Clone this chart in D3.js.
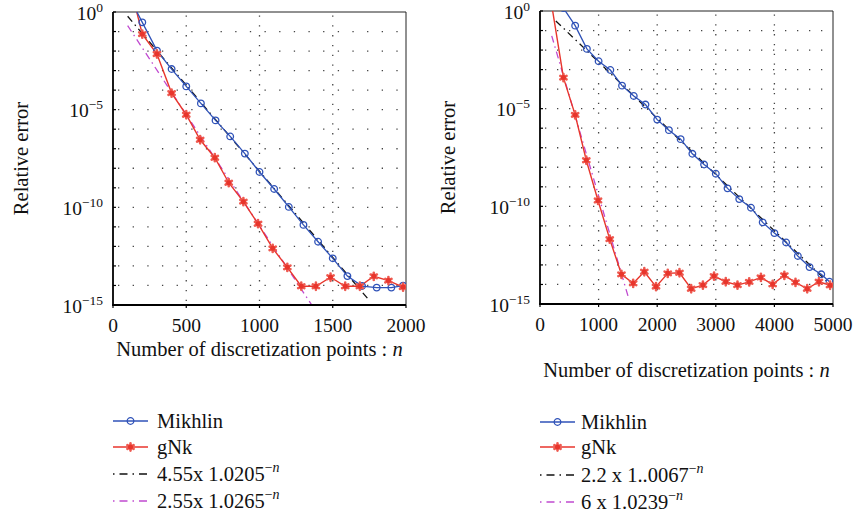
<!DOCTYPE html>
<html><head><meta charset="utf-8">
<script src="https://cdn.jsdelivr.net/npm/d3@7"></script>
<style>
body{margin:0;background:#fff}
svg{display:block}
text{font-family:"Liberation Serif","Times New Roman",serif;fill:#111}
</style>
</head><body>
<svg id="c" width="855" height="522"></svg>
<script>
// ---------- DATA ----------
const leftMikhlinN = [100,200,300,400,500,600,700,800,900,1000,1100,1200,1300,1400,1500,1600,1700,1800,1900,1980];
const leftMikhlin  = [8.3,2.95e-1,1.05e-2,1.2e-3,1.55e-4,2.09e-5,2.82e-6,4.27e-7,5.62e-8,6.46e-9,8.71e-10,1.05e-10,1.26e-11,1.74e-12,2.45e-13,3.02e-14,9.33e-15,7.76e-15,7.76e-15,9.77e-15];
const leftGnkN = [100,200,300,400,500,595,695,790,890,990,1090,1190,1285,1385,1485,1585,1685,1780,1880,1980];
const leftGnk  = [69,7.41e-2,7.08e-3,7.08e-5,5.5e-6,2.88e-7,3.47e-8,1.82e-9,1.95e-10,1.45e-11,7.94e-13,8.51e-14,9.12e-15,9.12e-15,2.63e-14,9.12e-15,9.12e-15,2.95e-14,1.78e-14,8.32e-15];
const leftFitBlackN = [100,1750];
const leftFitBlack  = [6.03e-1,1.70e-15];
const leftFitMagN = [100,1360];
const leftFitMag  = [2.0e-1,9.1e-16];

const rightMikhlinN = [400,600,800,1000,1200,1400,1600,1800,2000,2200,2400,2600,2800,3000,3200,3400,3600,3800,4000,4200,4400,4600,4800,4940];
const rightMikhlin  = [1.41,1.78e-1,1.15e-2,2.69e-3,9.55e-4,1.51e-4,4.47e-5,1.62e-5,2.75e-6,7.94e-7,2.75e-7,4.9e-8,1.38e-8,4.68e-9,8.32e-10,2.34e-10,8.51e-11,1.51e-11,4.27e-12,1.41e-12,2.88e-13,7.76e-14,3.31e-14,1.38e-14];
const rightGnkN = [200,400,600,790,990,1190,1390,1590,1780,1980,2180,2380,2580,2780,2970,3170,3370,3570,3770,3970,4170,4360,4560,4760,4950];
const rightGnk  = [2.0,3.89e-4,4.79e-6,2.29e-8,2.0e-10,2.09e-12,3.31e-14,1.15e-14,4.47e-14,7.76e-15,3.72e-14,3.98e-14,6.03e-15,9.33e-15,2.69e-14,1.38e-14,9.33e-15,1.35e-14,2.29e-14,1.02e-14,2.95e-14,1.29e-14,6.03e-15,1.38e-14,9.12e-15];
const rightFitBlackN = [270,4950];
const rightFitBlack  = [3.1e-1,1.02e-14];
const rightFitMagN = [200,1520];
const rightFitMag  = [5.37e-2,1.66e-15];

const leftXTicks = [0,500,1000,1500,2000];
const rightXTicks = [0,1000,2000,3000,4000,5000];
const yTickExps = [0,-5,-10,-15];
const xLabel = "Number of discretization points : ";
const yLabel = "Relative error";
const leftLegend = [["Mikhlin",""],["gNk",""],["4.55x 1.0205","\u2212n"],["2.55x 1.0265","\u2212n"]];
const rightLegend = [["Mikhlin",""],["gNk",""],["2.2 x 1..0067","\u2212n"],["6 x 1.0239","\u2212n"]];

// ---------- STYLE ----------
const BLUE = "#2f52b8", RED = "#e8352c", BLACK = "#111", MAG = "#c04ad0";
const svg = d3.select("#c");

const asterisk = {
  draw(ctx, size) {
    const r = Math.sqrt(size) * 0.6, t = r / 2, u = t * Math.sqrt(3);
    ctx.moveTo(0, r); ctx.lineTo(0, -r);
    ctx.moveTo(-u, -t); ctx.lineTo(u, t);
    ctx.moveTo(-u, t); ctx.lineTo(u, -t);
  }
};

function zip(a, b) { return a.map((v, i) => [v, b[i]]); }

function drawStar(sel) {
  sel.append("path").attr("d", d3.symbol().type(asterisk).size(36)())
    .attr("fill", "none").attr("stroke", "#ee5a50").attr("stroke-width", 2.6).attr("stroke-linecap", "round");
  sel.append("circle").attr("r", 2.5).attr("fill", RED);
}
function drawCircle(sel) {
  sel.append("circle").attr("r", 3.3).attr("fill", "none").attr("stroke", BLUE).attr("stroke-width", 1.3);
}

function panel(cfg) {
  const g = svg.append("g");
  const x = d3.scaleLinear().domain([0, cfg.xmax]).range([cfg.x0, cfg.x1]);
  const y = d3.scaleLog().domain([1e-15, 1]).range([cfg.y1, cfg.y0]);

  // grid (dotted)
  const decades = d3.range(-14, 0).map(e => Math.pow(10, e));
  g.selectAll(".hg").data(decades).join("line")
    .attr("x1", cfg.x0).attr("x2", cfg.x1)
    .attr("y1", d => y(d)).attr("y2", d => y(d))
    .attr("stroke", "#444").attr("stroke-width", 1.3)
    .attr("stroke-dasharray", `1.3,${cfg.hgap - 1.3}`)
    .attr("stroke-dashoffset", -5);
  const inner = cfg.xticks.slice(1, -1);
  g.selectAll(".vg").data(inner).join("line")
    .attr("x1", d => x(d)).attr("x2", d => x(d))
    .attr("y1", cfg.y1).attr("y2", cfg.y0)
    .attr("stroke", "#444").attr("stroke-width", 1.3)
    .attr("stroke-dasharray", "1.3,8.5")
    .attr("stroke-dashoffset", -4);

  // frame
  g.append("line").attr("x1", cfg.x0).attr("x2", cfg.x1).attr("y1", cfg.y0).attr("y2", cfg.y0).attr("stroke", "#222").attr("stroke-width", 1);
  g.append("line").attr("x1", cfg.x1).attr("x2", cfg.x1).attr("y1", cfg.y0).attr("y2", cfg.y1).attr("stroke", "#222").attr("stroke-width", 1);

  // clip
  const id = "clip" + cfg.id;
  svg.append("clipPath").attr("id", id).append("rect")
    .attr("x", cfg.x0).attr("y", cfg.y0).attr("width", cfg.x1 - cfg.x0).attr("height", cfg.y1 - cfg.y0);
  const p = g.append("g").attr("clip-path", `url(#${id})`);
  const line = d3.line().x(d => x(d[0])).y(d => y(d[1]));

  p.append("path").datum(zip(cfg.blackN, cfg.black)).attr("d", line)
    .attr("fill", "none").attr("stroke", BLACK).attr("stroke-width", 1.3).attr("stroke-dasharray", "7,4,1.5,4");
  p.append("path").datum(zip(cfg.magN, cfg.mag)).attr("d", line)
    .attr("fill", "none").attr("stroke", MAG).attr("stroke-width", 1.3).attr("stroke-dasharray", "7,4,1.5,4");
  p.append("path").datum(zip(cfg.gnkN, cfg.gnk)).attr("d", line)
    .attr("fill", "none").attr("stroke", RED).attr("stroke-width", 1.4);
  p.append("path").datum(zip(cfg.mikN, cfg.mik)).attr("d", line)
    .attr("fill", "none").attr("stroke", BLUE).attr("stroke-width", 1.3);
  p.selectAll(".mk").data(zip(cfg.mikN, cfg.mik)).join("g")
    .attr("transform", d => `translate(${x(d[0])},${y(d[1])})`).call(drawCircle);
  p.selectAll(".st").data(zip(cfg.gnkN, cfg.gnk)).join("g")
    .attr("transform", d => `translate(${x(d[0])},${y(d[1])})`).each(function () { drawStar(d3.select(this)); });

  // axes (left & bottom heavier)
  g.append("line").attr("x1", cfg.x0).attr("x2", cfg.x0).attr("y1", cfg.y0).attr("y2", cfg.y1 + 0.8).attr("stroke", "#000").attr("stroke-width", 1.8);
  g.append("line").attr("x1", cfg.x0 - 0.8).attr("x2", cfg.x1).attr("y1", cfg.y1).attr("y2", cfg.y1).attr("stroke", "#000").attr("stroke-width", 1.8);

  // y ticks
  const allDec = d3.range(-15, 1).map(e => Math.pow(10, e));
  g.selectAll(".yt").data(allDec).join("line")
    .attr("x1", cfg.x0).attr("x2", cfg.x0 + 3).attr("y1", d => y(d)).attr("y2", d => y(d))
    .attr("stroke", "#000").attr("stroke-width", 1.2);
  const yl = g.selectAll(".yl").data(yTickExps).join("text")
    .attr("x", cfg.x0 - 10).attr("y", d => y(Math.pow(10, d)) + 7.5)
    .attr("text-anchor", "end").style("font-size", "19.5px");
  yl.append("tspan").text("10");
  yl.append("tspan").attr("dy", -8).style("font-size", "13.5px").text(d => d === 0 ? "0" : "\u2212" + (-d));

  // x ticks
  g.selectAll(".xt").data(cfg.xticks).join("line")
    .attr("x1", d => x(d)).attr("x2", d => x(d)).attr("y1", cfg.y1).attr("y2", cfg.y1 + 3)
    .attr("stroke", "#000").attr("stroke-width", 1.2);
  g.selectAll(".xl").data(cfg.xticks).join("text")
    .attr("x", d => x(d)).attr("y", cfg.y1 + 27).attr("text-anchor", "middle")
    .style("font-size", "19.5px").text(d => d);

  // axis titles
  const xt = g.append("text").attr("x", (cfg.x0 + cfg.x1) / 2).attr("y", cfg.xLabelY)
    .attr("text-anchor", "middle").style("font-size", "20.5px");
  xt.append("tspan").text(xLabel);
  xt.append("tspan").style("font-style", "italic").text("n");
  g.append("text").attr("transform", `translate(${cfg.yLabelX},${(cfg.y0 + cfg.y1) / 2}) rotate(-90)`)
    .attr("text-anchor", "middle").style("font-size", "20.5px").text(yLabel);

  // legend
  const styles = ["mik", "gnk", "black", "mag"];
  cfg.legend.forEach((row, i) => {
    const cy = cfg.legRows[i];
    const lg = svg.append("g");
    const lx0 = cfg.legX0, lx1 = cfg.legX0 + 35, mx = (lx0 + lx1) / 2;
    const s = styles[i];
    const l = lg.append("line").attr("x1", lx0).attr("x2", lx1).attr("y1", cy).attr("y2", cy).attr("fill", "none");
    if (s === "mik") { l.attr("stroke", BLUE).attr("stroke-width", 1.3); lg.append("g").attr("transform", `translate(${mx},${cy})`).call(drawCircle); }
    if (s === "gnk") { l.attr("stroke", RED).attr("stroke-width", 1.6); drawStar(lg.append("g").attr("transform", `translate(${mx},${cy})`)); }
    if (s === "black") l.attr("stroke", BLACK).attr("stroke-width", 1.3).attr("stroke-dasharray", "1.5,5,8,5");
    if (s === "mag") l.attr("stroke", MAG).attr("stroke-width", 1.3).attr("stroke-dasharray", "1.5,5,8,5");
    const t = lg.append("text").attr("x", lx1 + cfg.legTextGap).attr("y", cy + 7).style("font-size", "20.5px");
    t.append("tspan").text(row[0]);
    if (row[1]) {
      t.append("tspan").attr("dy", -9).style("font-size", "14px").text("\u2212");
      t.append("tspan").style("font-size", "14px").style("font-style", "italic").text("n");
    }
  });
}

panel({
  id: "L", x0: 113, x1: 406, y0: 12, y1: 305, xmax: 2000, xticks: leftXTicks, hgap: 14.65,
  mikN: leftMikhlinN, mik: leftMikhlin, gnkN: leftGnkN, gnk: leftGnk,
  blackN: leftFitBlackN, black: leftFitBlack, magN: leftFitMagN, mag: leftFitMag,
  xLabelY: 356, yLabelX: 28, legend: leftLegend, legX0: 113, legTextGap: 9, legRows: [421, 447, 474, 501]
});
panel({
  id: "R", x0: 540, x1: 833, y0: 11, y1: 304, xmax: 5000, xticks: rightXTicks, hgap: 12,
  mikN: rightMikhlinN, mik: rightMikhlin, gnkN: rightGnkN, gnk: rightGnk,
  blackN: rightFitBlackN, black: rightFitBlack, magN: rightFitMagN, mag: rightFitMag,
  xLabelY: 377, yLabelX: 455, legend: rightLegend, legX0: 540, legTextGap: 6, legRows: [422, 447, 475, 502]
});
</script>
</body></html>
